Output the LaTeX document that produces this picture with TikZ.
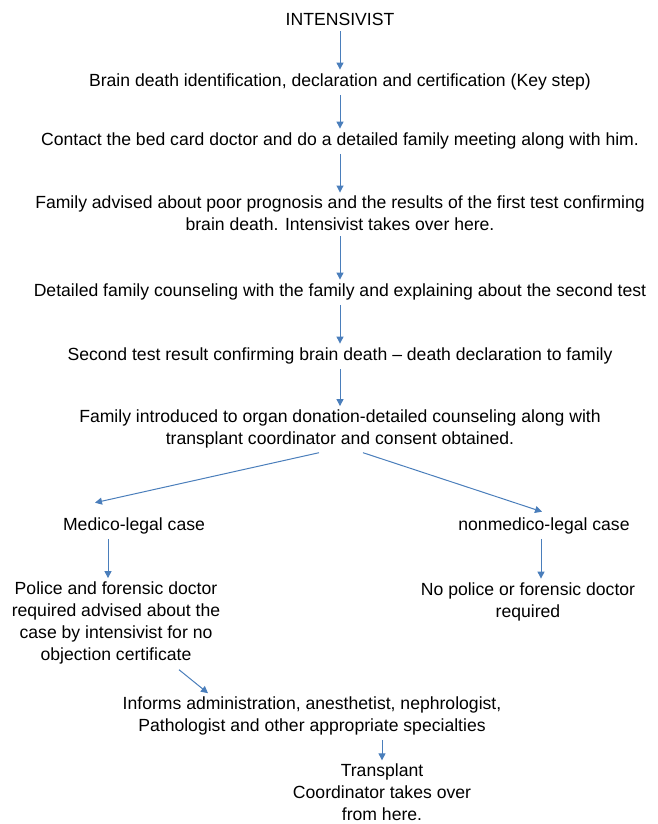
\documentclass[tikz,border=0pt]{standalone}
\usepackage{fontspec}
\setmainfont{Liberation Sans}
\usepackage{xcolor}
\usetikzlibrary{arrows.meta,positioning,calc}

\definecolor{flowblue}{RGB}{74,126,187}

\begin{document}
\begin{tikzpicture}[
    x=1pt, y=1pt,
    stage/.style={inner sep=0pt, align=center, text=black, font=\fontsize{17.6}{22}\selectfont},
    arrow/.style={-{Triangle[width=7pt,length=7pt]}, draw=flowblue, line width=1pt, shorten <=5pt, shorten >=3.5pt},
    branch/.style={arrow, shorten <=0pt, shorten >=0pt}
]
\useasboundingbox (0,0) rectangle (658,-824);

% Main column
\node (intensivist) [stage] at (340,-19.7) {INTENSIVIST};
\node (braindeath) [stage] at (340,-81.5) {Brain death identification, declaration and certification (Key step)};
\node (contact) [stage] at (340,-140.5) {Contact the bed card doctor and do a detailed family meeting along with him.};
\node (advised) [stage] at (340,-213.7) {Family advised about poor prognosis and the results of the first test confirming\\brain death. Intensivist takes over here.};
\node (counseling) [stage] at (340,-291.5) {Detailed family counseling with the family and explaining about the second test};
\node (secondtest) [stage] at (340,-355.5) {Second test result confirming brain death -- death declaration to family};
\node (introduced) [stage] at (340,-429) {Family introduced to organ donation-detailed counseling along with\\transplant coordinator and consent obtained.};

% Branches
\node (medico) [stage] at (134,-525.5) {Medico-legal case};
\node (nonmedico) [stage] at (544,-525.5) {nonmedico-legal case};
\node (police) [stage] at (116,-623) {Police and forensic doctor\\required advised about the\\case by intensivist for no\\objection certificate};
\node (nopolice) [stage] at (528,-601.5) {No police or forensic doctor\\required};

% Hand over
\node (informs) [stage] at (312,-716) {Informs administration, anesthetist, nephrologist,\\Pathologist and other appropriate specialties};
\node (transplant) [stage] at (382,-792.5) {Transplant\\Coordinator takes over\\from here.};

% Arrows
\draw [arrow] (intensivist) -- (braindeath);
\draw [arrow] (braindeath) -- (contact);
\draw [arrow] (contact) -- (advised);
\draw [arrow] (advised) -- (counseling);
\draw [arrow] (counseling) -- (secondtest);
\draw [arrow] (secondtest) -- (introduced);

\draw [branch] ([shift={(-21pt,-4.3pt)}]introduced.south) -- ([shift={(-39pt,14.4pt)}]medico.north);
\draw [branch] ([shift={(23pt,-4.3pt)}]introduced.south) -- ([shift={(-2pt,5.4pt)}]nonmedico.north);

\draw [arrow] ([xshift=-26pt]medico.south) -- ([xshift=-26pt]medico.south |- police.north);
\draw [arrow] ([xshift=-3pt]nonmedico.south) -- ([xshift=-3pt]nonmedico.south |- nopolice.north);

\draw [branch] ([shift={(63pt,-5.3pt)}]police.south) -- ([shift={(-104pt,3.4pt)}]informs.north);
\draw [arrow] (transplant.north |- informs.south) -- (transplant.north);

\end{tikzpicture}
\end{document}
